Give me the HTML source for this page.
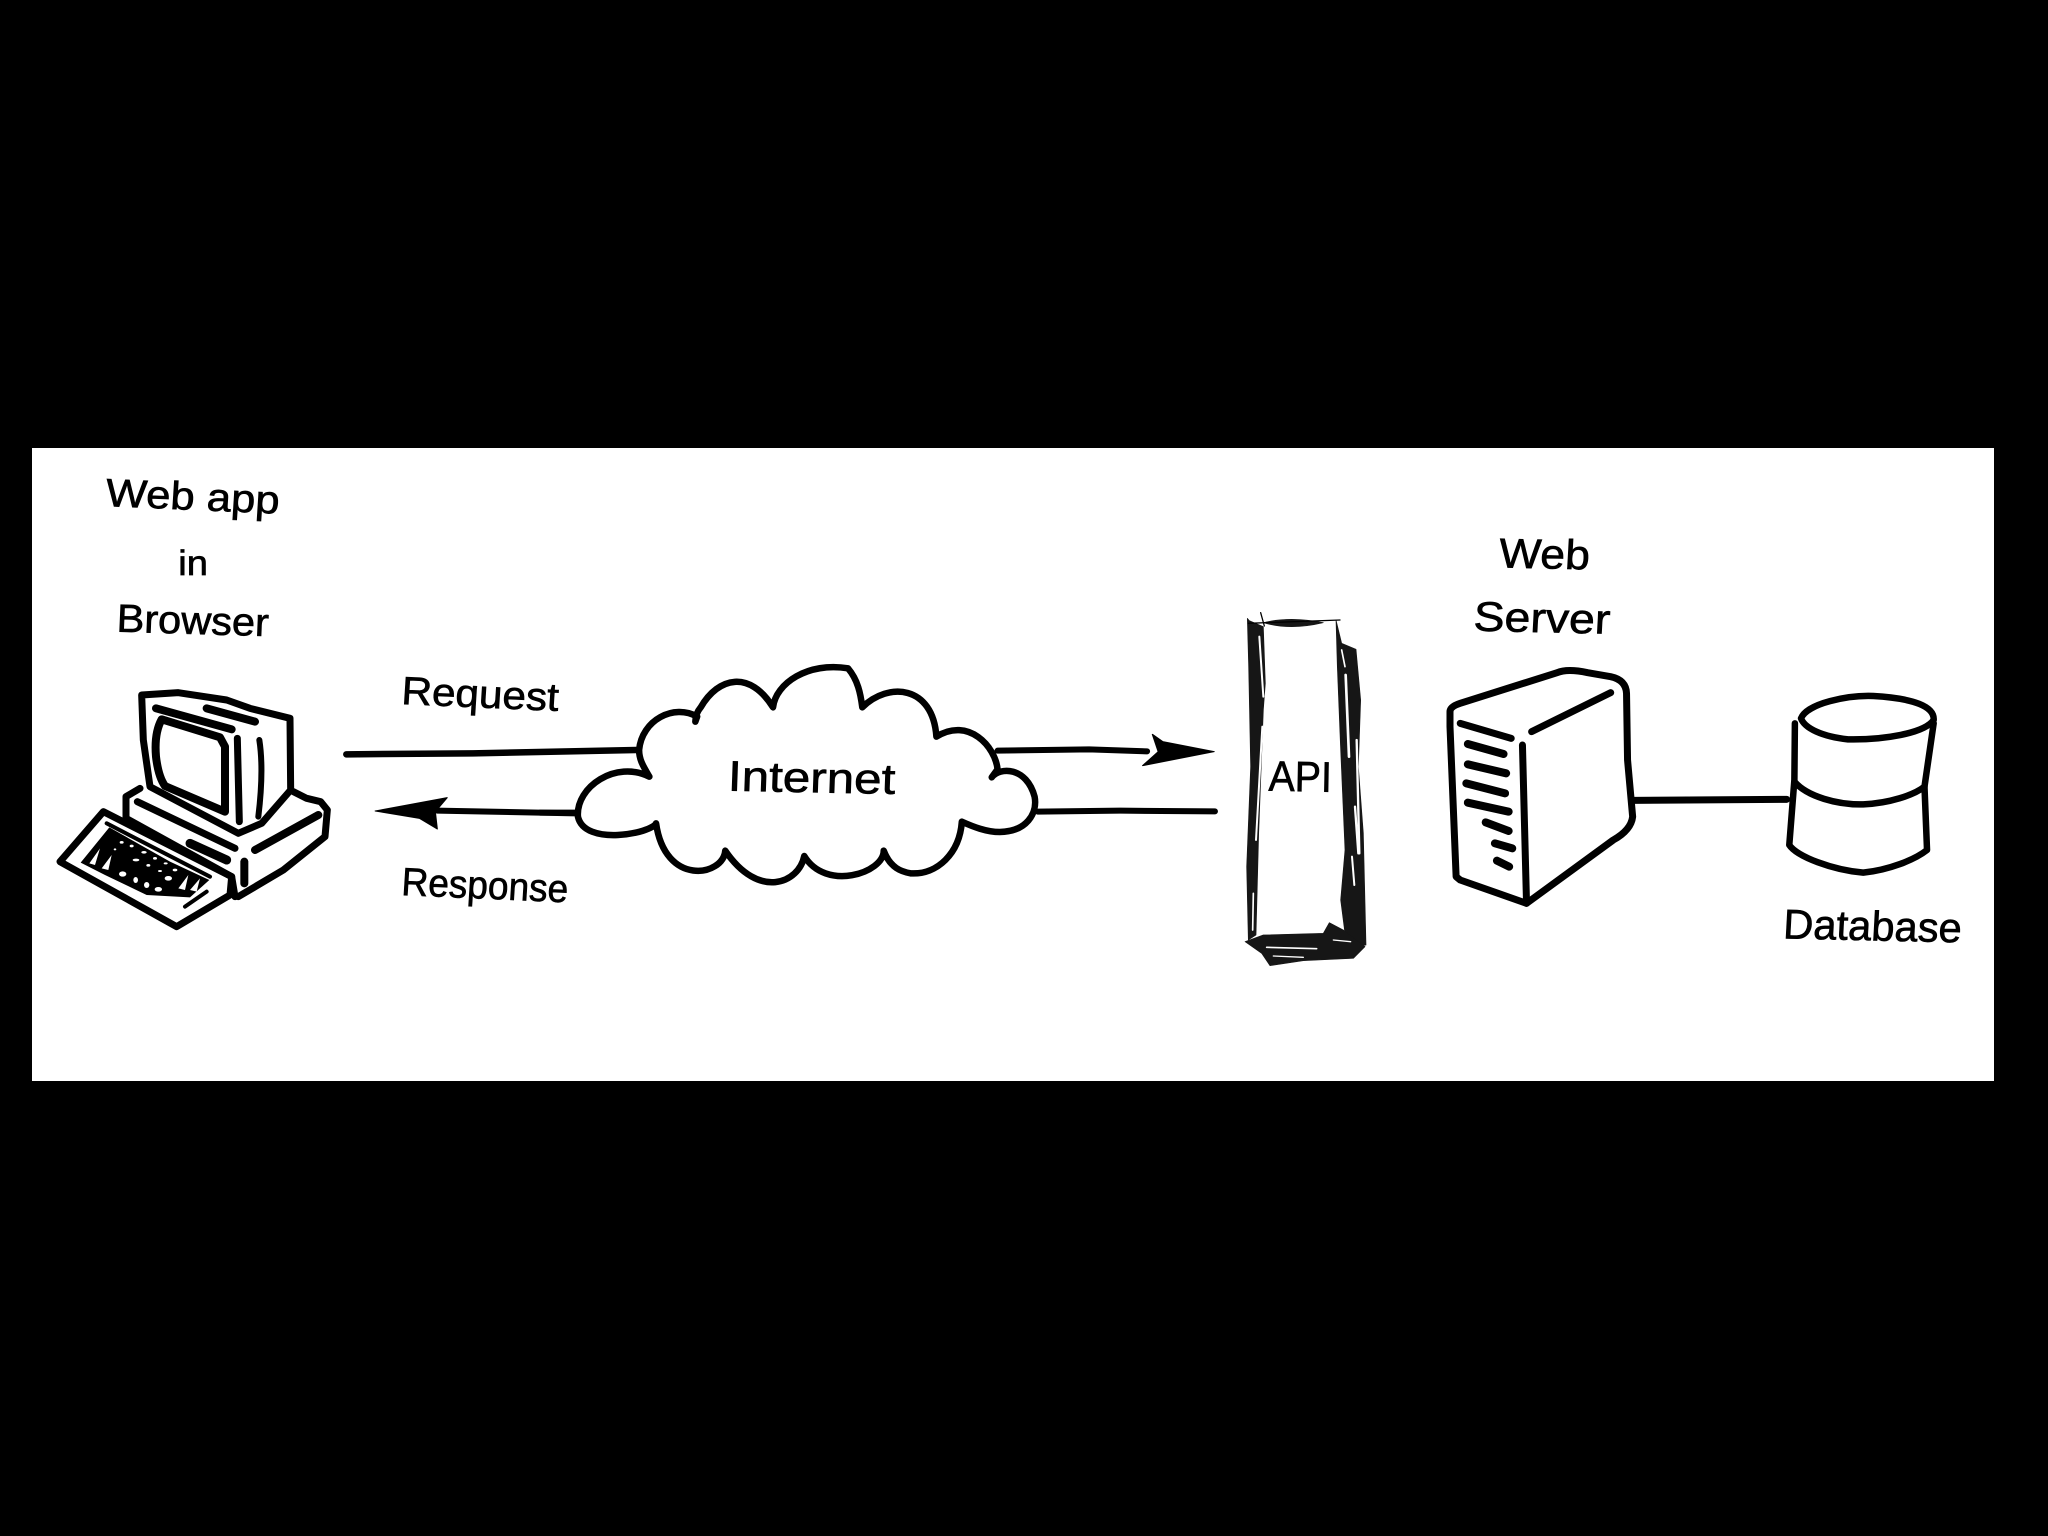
<!DOCTYPE html>
<html><head><meta charset="utf-8"><style>
html,body{margin:0;padding:0;background:#000;width:2048px;height:1536px;overflow:hidden}
svg{display:block}
.l,.l *{fill:none;stroke:#000;stroke-linecap:round;stroke-linejoin:round;vector-effect:non-scaling-stroke}
text{font-family:"Liberation Sans",sans-serif;fill:#000;stroke:#000;stroke-width:2}
</style></head><body>
<svg width="2048" height="1536" viewBox="0 0 2048 1536" xmlns="http://www.w3.org/2000/svg">
<rect width="2048" height="1536" fill="#000"/>
<rect x="32" y="448" width="1962" height="633" fill="#fff"/>

<!-- computer -->
<g transform="translate(50,680) scale(.33333)">
<g class="l" stroke-width="7">
<path d="M275,45 L385,38 L530,60 L600,85 L720,115 L722,330 L635,430 L565,460 L300,320 L280,180 Z"/>
<path d="M318,85 L545,148" stroke-width="8"/>
<path d="M470,85 L615,125" stroke-width="8"/>
<path d="M335,118 Q312,160 318,230 Q325,290 345,318 L525,395 L525,200 L510,172 Z" stroke-width="8"/>
<path d="M562,175 L568,425" stroke-width="7"/>
<path d="M628,180 Q642,270 625,410" stroke-width="6"/>
<path d="M270,325 L228,350 L228,415"/>
<path d="M730,335 L770,355 L812,365 L832,390 L825,470 L700,570 L565,650"/>
<path d="M228,415 L545,590 L555,650"/>
<path d="M262,365 L555,505"/>
<path d="M420,490 L530,540" stroke-width="9"/>
<path d="M805,405 L615,510" stroke-width="8"/>
<path d="M583,545 L583,610" stroke-width="8"/>
<path d="M160,395 L30,545 L380,740 L540,645 L545,590 Z"/>
<path d="M170,430 L480,590" stroke-width="4"/>
<path d="M405,680 L470,635" stroke-width="4"/>
</g>
<path d="M178,442 L92,548 L165,585 L290,645 L420,652 L478,600 L360,545 Z" fill="#000"/>
<g fill="#fff">
<ellipse cx="215" cy="487" rx="6" ry="4"/><ellipse cx="245" cy="498" rx="6" ry="4"/><ellipse cx="282" cy="517" rx="8" ry="4"/><ellipse cx="315" cy="535" rx="6" ry="4"/><ellipse cx="347" cy="550" rx="6" ry="3"/>
<ellipse cx="195" cy="508" rx="4" ry="3"/><ellipse cx="258" cy="540" rx="10" ry="4"/><ellipse cx="295" cy="556" rx="6" ry="4"/><ellipse cx="330" cy="573" rx="6" ry="3"/><ellipse cx="375" cy="570" rx="7" ry="4"/>
<ellipse cx="218" cy="582" rx="11" ry="8"/><ellipse cx="257" cy="600" rx="7" ry="9"/><ellipse cx="290" cy="615" rx="8" ry="9"/><ellipse cx="325" cy="628" rx="11" ry="7"/><ellipse cx="355" cy="595" rx="11" ry="7"/>
<path d="M118,550 L150,505 L135,555 Z M155,565 L185,525 L175,570 Z"/>
<path d="M385,625 L415,585 L405,630 Z M420,630 L450,595 L440,635 Z"/>
</g>
</g>

<!-- left labels/connectors -->
<g transform="translate(30,450) scale(.3954,.33333)">
<path class="l" stroke-width="6.5" d="M800,913 L1120,910 L1535,900"/>
<path class="l" stroke-width="6" d="M1380,1090 L1030,1082"/>
<path d="M873,1083 L1055,1043 L1025,1085 L1030,1137 L985,1105 Z" fill="#000" stroke="#000" stroke-width="3" stroke-linejoin="round"/>
<text x="190" y="168" font-size="118" textLength="440" lengthAdjust="spacingAndGlyphs" transform="rotate(3 190 168)">Web app</text>
<text x="375" y="375" font-size="105" textLength="75" lengthAdjust="spacingAndGlyphs">in</text>
<text x="218" y="545" font-size="118" textLength="385" lengthAdjust="spacingAndGlyphs" transform="rotate(2 218 545)">Browser</text>
<text x="938" y="762" font-size="118" textLength="398" lengthAdjust="spacingAndGlyphs" transform="rotate(3 938 762)">Request</text>
<text x="938" y="1335" font-size="118" textLength="422" lengthAdjust="spacingAndGlyphs" transform="rotate(3 938 1335)">Response</text>
</g>

<!-- cloud -->
<g transform="translate(540,620) scale(.4464,.33333)">
<path class="l" stroke-width="6.5" style="fill:#fff" d="M245,470 C232,440 222,420 222,390 C228,300 300,250 352,290 L348,305 C348,285 355,270 360,262 C400,170 470,150 522,262 C528,190 600,125 690,145 C712,180 718,220 722,262 C780,185 880,195 888,350 C960,290 1020,380 1025,448 L1012,472 C1030,440 1090,440 1108,530 C1115,580 1090,635 1030,636 C1000,636 970,620 945,605 C940,700 890,765 830,760 C810,755 785,745 770,692 C770,760 640,815 592,708 C580,790 490,840 415,692 C410,770 280,800 260,610 C250,640 100,680 85,590 C80,500 170,420 245,470 Z"/>
<path class="l" stroke-width="6" d="M1025,392 L1230,388 L1360,394"/>
<path d="M1372,343 L1395,365 L1510,395 L1350,437 L1385,395 Z" fill="#000" stroke="#000" stroke-width="3" stroke-linejoin="round"/>
<path class="l" stroke-width="6" d="M1115,575 L1300,572 L1512,574"/>
<path class="l" stroke-width="6" d="M0,578 L80,578"/>
<text x="420" y="512" font-size="128" textLength="375" lengthAdjust="spacingAndGlyphs" transform="rotate(1.5 420 512)">Internet</text>
</g>

<!-- API -->
<g transform="translate(1230,600) scale(.33333)">
<g fill="#161616" stroke="#161616" stroke-width="2" stroke-linejoin="round">
<path d="M100,68 Q180,48 280,68 Q180,92 100,68 Z"/>
<path d="M52,55 L58,62 L100,80 L106,250 L100,330 L86,700 L78,1005 L55,1020 L50,800 L62,500 L56,200 Z"/>
<path d="M318,60 L335,130 L378,148 L392,300 L385,500 L400,700 L408,1035 L350,1040 L332,900 L345,750 L332,450 L322,200 Z"/>
<path d="M45,1025 L100,1005 L280,1000 L298,968 L340,990 L405,1040 L370,1075 L220,1082 L120,1097 L95,1060 Z"/>
</g>
<g class="l" stroke-width="1.3">
<path d="M55,70 L330,60"/><path d="M92,38 L103,78"/>
</g>
<g fill="none" stroke="#fff" stroke-linecap="round">
<path stroke-width="6" d="M88,110 L100,290"/>
<path stroke-width="6" d="M97,380 L78,720"/>
<path stroke-width="5" d="M70,880 L68,990"/>
<path stroke-width="8" d="M347,225 L357,470"/>
<path stroke-width="7" d="M380,420 L388,760"/>
<path stroke-width="7" d="M375,620 L385,760"/>
<path stroke-width="6" d="M366,770 L373,855"/>
<path stroke-width="5" d="M335,150 L345,200"/>
<path stroke-width="5" d="M110,1042 L260,1046"/>
<path stroke-width="4" d="M310,1020 L362,1025"/>
<path stroke-width="4" d="M130,1068 L220,1072"/>
</g>
<text x="115" y="572" font-size="128" textLength="190" lengthAdjust="spacingAndGlyphs" transform="rotate(1 115 572)">API</text>
</g>

<!-- right zone -->
<g transform="translate(1200,520) scale(.5102,.33333)">
<g class="l" stroke-width="7">
<path d="M490,575 Q490,560 510,550 L700,458 Q720,445 760,458 L805,470 Q835,480 836,520 L838,720 L848,890 Q845,930 810,960 L640,1150 L510,1080 L502,1070 L490,620 Z"/>
<path d="M650,635 L805,518"/>
<path d="M632,675 L640,1150" stroke-width="7"/>
<path d="M510,610 L610,655" stroke-width="7"/>
<path d="M525,672 L595,702" stroke-width="8"/>
<path d="M525,733 L600,760" stroke-width="8"/>
<path d="M522,790 L598,820" stroke-width="8"/>
<path d="M525,848 L605,875" stroke-width="8"/>
<path d="M560,907 L605,933" stroke-width="8"/>
<path d="M578,970 L612,985" stroke-width="8"/>
<path d="M582,1022 L606,1040" stroke-width="8"/>
<path d="M850,841 L1150,838"/>
<path d="M1178,595 C1190,550 1270,525 1320,528 C1400,535 1440,560 1438,600 C1420,640 1340,660 1270,658 C1220,650 1185,625 1178,595 Z" stroke-width="6.5"/>
<path d="M1166,610 L1165,780 L1155,975 C1170,1010 1240,1050 1300,1058 C1350,1050 1400,1020 1425,990 L1420,800 L1438,610" stroke-width="6.5"/>
<path d="M1165,785 C1190,830 1250,855 1300,853 C1350,850 1400,825 1420,800" stroke-width="6.5"/>
</g>
<text x="585" y="142" font-size="125" textLength="178" lengthAdjust="spacingAndGlyphs" transform="rotate(2 585 142)">Web</text>
<text x="535" y="332" font-size="125" textLength="268" lengthAdjust="spacingAndGlyphs" transform="rotate(2 535 332)">Server</text>
<text x="1142" y="1255" font-size="125" textLength="350" lengthAdjust="spacingAndGlyphs" transform="rotate(2 1142 1255)">Database</text>
</g>
</svg>
</body></html>
